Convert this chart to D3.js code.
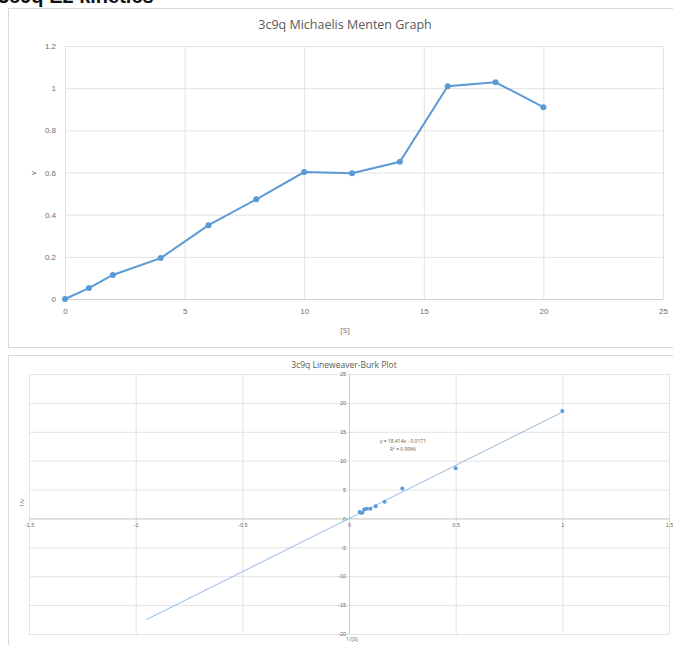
<!DOCTYPE html>
<html>
<head>
<meta charset="utf-8">
<script src="https://cdn.jsdelivr.net/npm/d3@7"></script>
<style>
  body { margin: 0; background: #fff; }
  svg { display: block; font-family: "Open Sans", "Liberation Sans", sans-serif; }
  .tick line { stroke: #e3e3e3; }
  .domain { display: none; }
</style>
</head>
<body>
<div id="chart"></div>
<script>
// Michaelis Menten data
const substrate = [0, 1, 2, 4, 6, 8, 10, 12, 14, 16, 18, 20];
const velocity = [0, 0.052, 0.114, 0.194, 0.35, 0.473, 0.602, 0.597, 0.651, 1.009, 1.028, 0.91];
const mmXTicks = [0, 5, 10, 15, 20, 25];
const mmYTicks = [0, 0.2, 0.4, 0.6, 0.8, 1, 1.2];

// Lineweaver-Burk data (1/[S], 1/v)
const invS = [1, 0.5, 0.25, 0.167, 0.125, 0.1, 0.083, 0.071, 0.0625, 0.0556, 0.05];
const invV = [18.6, 8.7, 5.2, 2.9, 2.1, 1.66, 1.67, 1.53, 1.0, 0.97, 1.1];
const lbXTicks = [-1.5, -1, -0.5, 0, 0.5, 1, 1.5];
const lbYTicks = [-20, -15, -10, -5, 0, 5, 10, 15, 20, 25];
const trendSlope = 18.414, trendIntercept = -0.0171;
const trendRange = [-0.95, 1];

const W = 673, H = 645;
const blue = "#5b9bd5", textCol = "#6b6b6b";

const svg = d3.select("#chart").append("svg").attr("width", W).attr("height", H);

// page heading, cut off by the top edge as in the screenshot
svg.append("text").attr("x", -2).attr("y", 3)
  .style("font-family", "Liberation Sans, Arial, sans-serif")
  .style("font-weight", "bold").style("font-size", "20px").attr("fill", "#111")
  .text("3c9q E2 kinetics");

// ---------- top chart ----------
svg.append("rect").attr("x", 8.5).attr("y", 8.5).attr("width", 700).attr("height", 339)
  .attr("fill", "#fff").attr("stroke", "#d9d9d9");

let x1 = d3.scaleLinear().domain([0, 25]).range([65, 663]);
let y1 = d3.scaleLinear().domain([0, 1.2]).range([299, 46]);

// gridlines
svg.append("g").attr("transform", "translate(0,299)")
  .call(d3.axisBottom(x1).tickValues(mmXTicks).tickSize(-(299 - 46)).tickFormat(""));
svg.append("g").attr("transform", "translate(65,0)")
  .call(d3.axisLeft(y1).tickValues(mmYTicks).tickSize(-(663 - 65)).tickFormat(""));
svg.append("line").attr("x1", 65).attr("x2", 663).attr("y1", 299.5).attr("y2", 299.5).attr("stroke", "#d0d0d0");

// tick labels
let ax1 = svg.append("g").attr("transform", "translate(0,299)")
  .call(d3.axisBottom(x1).tickValues(mmXTicks).tickSize(0).tickPadding(9).tickFormat(d => String(d)));
let ay1 = svg.append("g").attr("transform", "translate(65,0)")
  .call(d3.axisLeft(y1).tickValues(mmYTicks).tickSize(0).tickPadding(9).tickFormat(d => String(+d.toFixed(1))));
[ax1, ay1].forEach(g => g.selectAll("text").attr("fill", textCol).style("font-size", "8px"));
ax1.selectAll(".tick line").remove();
ay1.selectAll(".tick line").remove();

svg.append("text").attr("x", 345).attr("y", 29).attr("text-anchor", "middle")
  .attr("fill", "#595959").style("font-size", "12.5px").text("3c9q Michaelis Menten Graph");
svg.append("text").attr("x", 345).attr("y", 333).attr("text-anchor", "middle")
  .attr("fill", textCol).style("font-size", "8px").text("[S]");
svg.append("text").attr("transform", "translate(36,173) rotate(-90)").attr("text-anchor", "middle")
  .attr("fill", textCol).style("font-size", "8px").text("v");

const mm = substrate.map((s, i) => ({ x: s, y: velocity[i] }));
svg.append("path").datum(mm)
  .attr("fill", "none").attr("stroke", blue).attr("stroke-width", 2)
  .attr("d", d3.line().x(d => x1(d.x)).y(d => y1(d.y)));
svg.selectAll(".mmdot").data(mm).enter().append("circle")
  .attr("cx", d => x1(d.x)).attr("cy", d => y1(d.y)).attr("r", 3).attr("fill", blue);

// ---------- bottom chart ----------
svg.append("rect").attr("x", 8.5).attr("y", 355.5).attr("width", 700).attr("height", 320)
  .attr("fill", "#fff").attr("stroke", "#d9d9d9");

let x2 = d3.scaleLinear().domain([-1.5, 1.5]).range([29, 669]);
let y2 = d3.scaleLinear().domain([-20, 25]).range([634, 374]);

svg.append("g").attr("transform", "translate(0,634)")
  .call(d3.axisBottom(x2).tickValues(lbXTicks).tickSize(-(634 - 374)).tickFormat(""));
svg.append("g").attr("transform", "translate(29,0)")
  .call(d3.axisLeft(y2).tickValues(lbYTicks).tickSize(-(669 - 29)).tickFormat(""));
svg.append("line").attr("x1", 29).attr("x2", 669).attr("y1", y2(0) + 0.5).attr("y2", y2(0) + 0.5).attr("stroke", "#cfcfcf");
svg.append("line").attr("x1", x2(0) + 0.5).attr("x2", x2(0) + 0.5).attr("y1", 374).attr("y2", 634).attr("stroke", "#cfcfcf");

let ax2 = svg.append("g").attr("transform", "translate(0," + y2(0) + ")")
  .call(d3.axisBottom(x2).tickValues(lbXTicks).tickSize(0).tickPadding(5).tickFormat(d => String(d)));
let ay2 = svg.append("g").attr("transform", "translate(" + x2(0) + ",0)")
  .call(d3.axisLeft(y2).tickValues(lbYTicks).tickSize(0).tickPadding(3).tickFormat(d => String(d)));
[ax2, ay2].forEach(g => g.selectAll("text").attr("fill", textCol).style("font-size", "5.5px"));
ax2.selectAll(".tick line").remove();
ay2.selectAll(".tick line").remove();

svg.append("text").attr("x", 344).attr("y", 368).attr("text-anchor", "middle")
  .attr("fill", "#595959").style("font-size", "8.5px").text("3c9q Lineweaver-Burk Plot");
svg.append("text").attr("x", 352).attr("y", 641).attr("text-anchor", "middle")
  .attr("fill", textCol).style("font-size", "5.5px").text("1/[S]");
svg.append("text").attr("transform", "translate(24,503) rotate(-90)").attr("text-anchor", "middle")
  .attr("fill", textCol).style("font-size", "5.5px").text("1/v");

// trendline
svg.append("line")
  .attr("x1", x2(trendRange[0])).attr("y1", y2(trendSlope * trendRange[0] + trendIntercept))
  .attr("x2", x2(trendRange[1])).attr("y2", y2(trendSlope * trendRange[1] + trendIntercept))
  .attr("stroke", "#8fbbe3").attr("stroke-width", 1);

svg.append("text").attr("x", 403).attr("y", 443).attr("text-anchor", "middle")
  .attr("fill", "#595959").style("font-size", "5px").text("y = 18.414x - 0.0171");
svg.append("text").attr("x", 403).attr("y", 451).attr("text-anchor", "middle")
  .attr("fill", "#595959").style("font-size", "5px").text("R² = 0.9966");

const lb = invS.map((s, i) => ({ x: s, y: invV[i] }));
svg.selectAll(".lbdot").data(lb).enter().append("circle")
  .attr("cx", d => x2(d.x)).attr("cy", d => y2(d.y)).attr("r", 2).attr("fill", blue);
</script>
</body>
</html>
